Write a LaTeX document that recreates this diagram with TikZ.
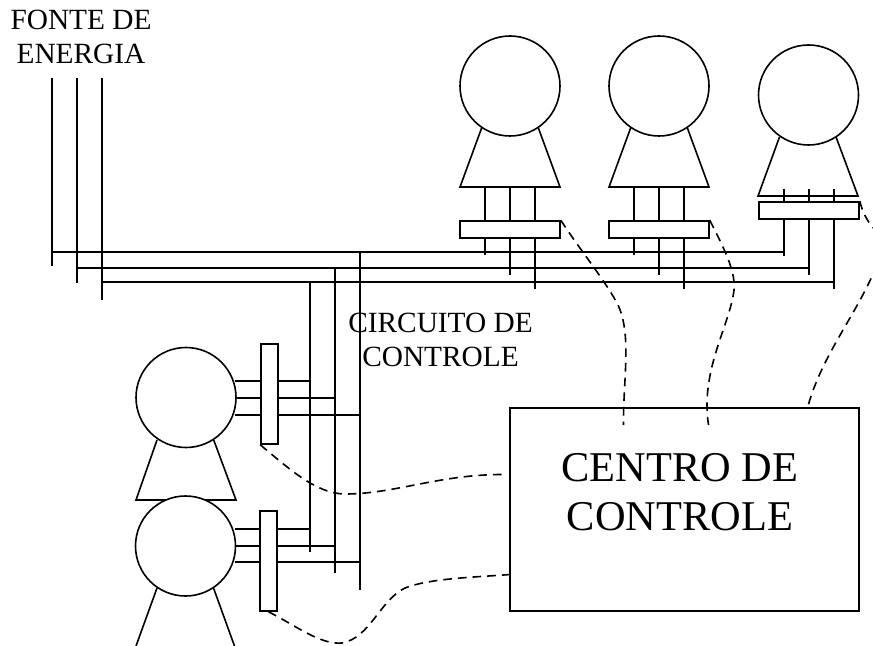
\documentclass[tikz,border=0pt]{standalone}
\usepackage{fontspec}
\setmainfont{Liberation Serif}
\tikzset{
  wire/.style={draw=black,line width=1.2pt},
  dashwire/.style={draw=black,line width=1.2pt,dash pattern=on 6.5pt off 4.5pt},
  lbl/.style={align=center,inner sep=0pt,font=\fontsize{22}{25.5}\selectfont},
  big/.style={align=center,inner sep=0pt,font=\fontsize{31.8}{36.75}\selectfont},
  boxn/.style={draw=black,line width=1.2pt,fill=white,inner sep=0pt},
  motor/.style={circle,draw=black,line width=1.2pt,fill=white,inner sep=0pt,minimum size=75pt},
}
\begin{document}
\begin{tikzpicture}[x=0.75pt,y=-0.75pt]
\useasboundingbox (0,0) rectangle (873,645);
\clip (0,0) rectangle (873,645);
% Buses
\draw[wire] (52,78) -- (52,266);
\draw[wire] (77,78) -- (77,283);
\draw[wire] (102,78) -- (102,300);
\draw[wire] (52,252) -- (784,252) -- (784,219);
\draw[wire] (77,268) -- (809,268) -- (809,219);
\draw[wire] (102,282) -- (834,282) -- (834,219);
\draw[wire] (784,252) -- (784,256);
\draw[wire] (809,268) -- (809,275);
\draw[wire] (834,282) -- (834,289);
\draw[wire] (310,282) -- (310,552);
\draw[wire] (335,268) -- (335,573);
\draw[wire] (360,252) -- (360,590);
% top motors
\foreach \n/\cx in {a/510,b/659}{
  \draw[wire] (\cx-28,127) -- (\cx-50,187) -- (\cx+50,187) -- (\cx+28,127);
  \node[motor] (m\n) at (\cx,86) {};
  \draw[wire] (\cx-25,187) -- (\cx-25,255);
  \draw[wire] (\cx,187) -- (\cx,275);
  \draw[wire] (\cx+25,187) -- (\cx+25,289);
  \node[boxn,minimum width=75pt,minimum height=12.75pt] (r\n) at (\cx,229.5) {};
}
% right motor
\draw[wire] (779.5,137) -- (758,196) -- (858,196) -- (836,137);
\node[motor] (mc) at (808.5,95) {};
\draw[wire] (784,189) -- (784,203);
\draw[wire] (809,189) -- (809,203);
\draw[wire] (834,189) -- (834,203);
\node[boxn,minimum width=75pt,minimum height=12.75pt] (rc) at (809,210.5) {};
% left motors
\draw[wire] (157,440) -- (136,500) -- (236,500) -- (213.7,440);
\node[motor] (md) at (186,397.5) {};
\draw[wire] (157,588) -- (136,646) (213.5,588) -- (234.5,646);
\node[motor] (me) at (185.5,546) {};
\draw[wire] (235,381) -- (310,381);
\draw[wire] (236,398) -- (335,398);
\draw[wire] (235,415) -- (361,415);
\draw[wire] (235,529) -- (310,529);
\draw[wire] (235.5,546) -- (335,546);
\draw[wire] (235,562) -- (360,562);
\node[boxn,minimum width=12.75pt,minimum height=75pt] (rd) at (269.5,394) {};
\node[boxn,minimum width=12.75pt,minimum height=75pt] (re) at (268.5,561) {};
% control centre
\node[boxn,fill=none,minimum width=261.75pt,minimum height=152.25pt] (cc) at (684.5,509.5) {};
\node[big] (cct) at (680,492) {CENTRO DE\\CONTROLE};
% labels
\node[lbl] (fonte) at (81,37) {FONTE DE\\ENERGIA};
\node[lbl] (circ) at (440.5,340) {CIRCUITO DE\\CONTROLE};
% dashed
\draw[dashwire] (ra.north east) .. controls (580,250) and (605,280) .. (618,305) .. controls (632,335) and (623,380) .. (623.5,425);
\draw[dashwire] (rb.north east) .. controls (722,245) and (736,270) .. (734,290) .. controls (730,325) and (700,370) .. (708.5,425);
\draw[dashwire] (rc.north east) .. controls (865,222) and (875,230) .. (885,240) .. controls (870,300) and (825,345) .. (808,406);
\draw[dashwire] (rd.south west) .. controls (285,465) and (315,494) .. (345,494) .. controls (395,494) and (440,474) .. (505,474.5);
\draw[dashwire] (re.south) .. controls (295,625) and (320,645) .. (342,643) .. controls (370,638) and (380,600) .. (405,588) .. controls (430,578) and (480,577) .. (510,574.5);
\end{tikzpicture}
\end{document}
